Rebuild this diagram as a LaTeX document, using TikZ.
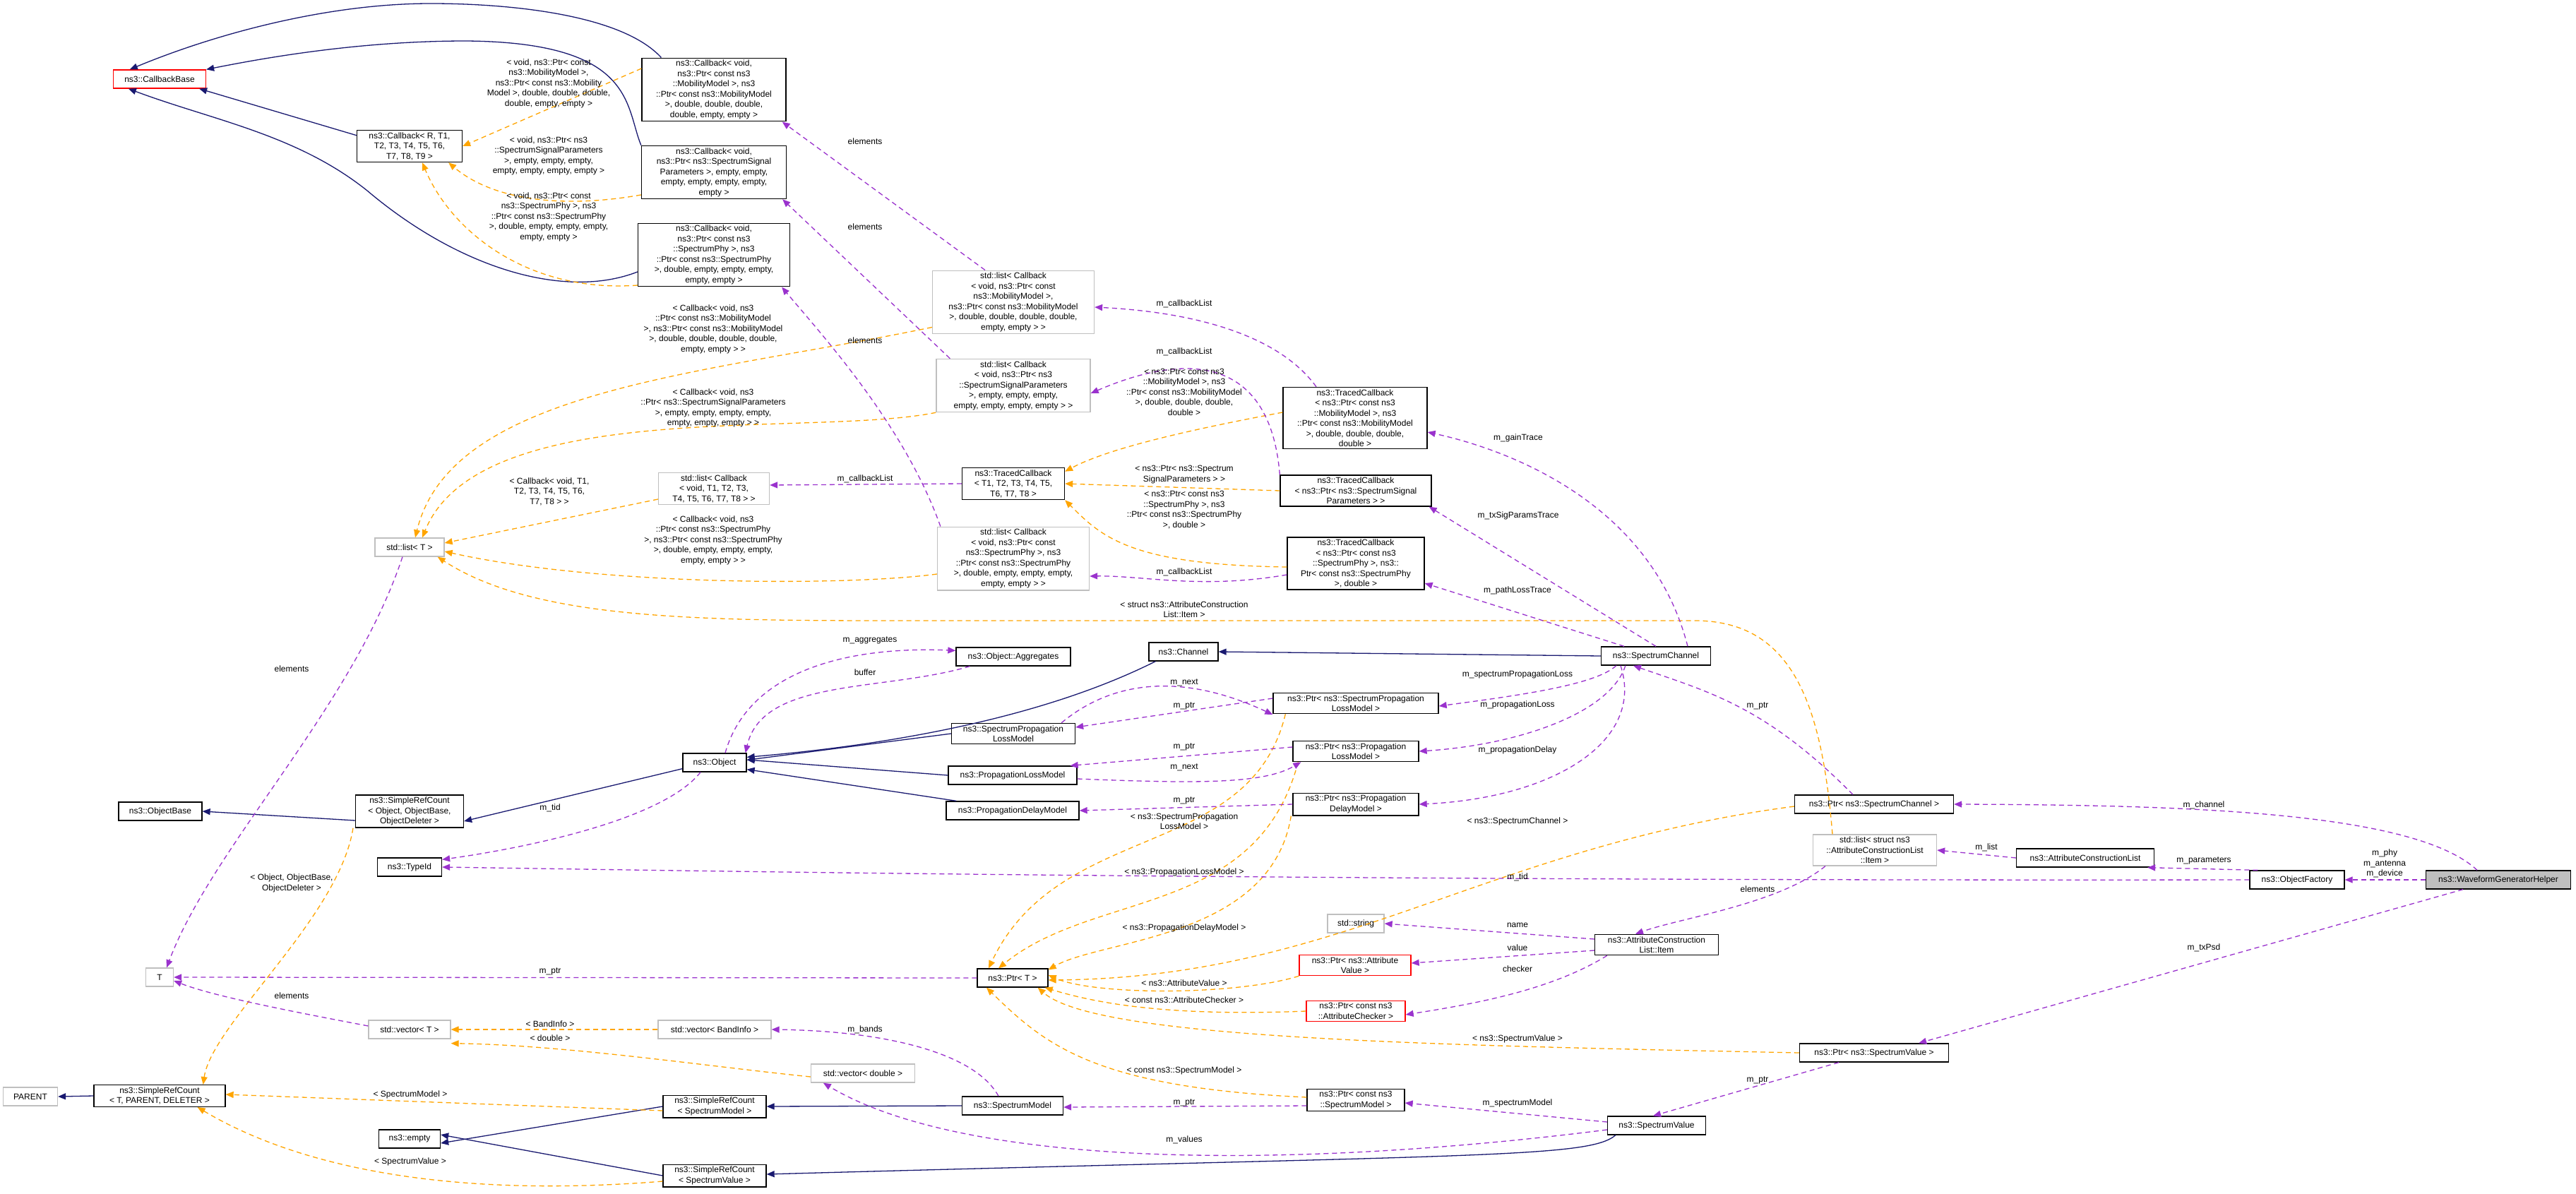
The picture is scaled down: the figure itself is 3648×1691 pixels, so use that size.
\documentclass[tikz,border=0pt]{standalone}
\usepackage{fontspec}
\setmainfont{Liberation Sans}
\usetikzlibrary{arrows.meta}
\definecolor{navy}{HTML}{191970}
\definecolor{purp}{HTML}{9A32CD}
\definecolor{orng}{HTML}{FFA500}
\newcommand\fsz{\fontsize{12}{14.5}\selectfont}
\tikzset{
 box/.style={draw=black, line width=1.3pt, fill=white, inner sep=3pt, align=center, font=\fsz},
 gbox/.style={box, draw=black!25},
 rbox/.style={box, draw=red},
 hbox/.style={box, fill=black!25},
 tip/.style={-{Triangle[length=11pt,width=9pt]}},
 inh/.style={draw=navy, line width=1.3pt, tip},
 use/.style={draw=purp, line width=1.3pt, dash pattern=on 7pt off 5pt, tip},
 tpl/.style={draw=orng, line width=1.3pt, dash pattern=on 7pt off 5pt, tip},
 lbl/.style={font=\fsz, align=center, inner sep=0pt}
}
\begin{document}
\begin{tikzpicture}[x=1pt,y=-1pt]
\useasboundingbox[fill=white] (0,0) rectangle (3648,1691);
% nodes
\node[rbox,minimum width=131pt,minimum height=26pt] (cbb) at (226,112) {ns3::CallbackBase};
\node[box,minimum width=149pt] (cbR) at (580,207) {ns3::Callback< R, T1,\\ T2, T3, T4, T5, T6,\\ T7, T8, T9 >};
\node[box,minimum width=204pt] (cbmob) at (1011,127) {ns3::Callback< void,\\ ns3::Ptr< const ns3\\ ::MobilityModel >, ns3\\ ::Ptr< const ns3::MobilityModel\\ >, double, double, double,\\ double, empty, empty >};
\node[box,minimum width=205pt] (cbsig) at (1011,244) {ns3::Callback< void,\\ ns3::Ptr< ns3::SpectrumSignal\\ Parameters >, empty, empty,\\ empty, empty, empty, empty,\\ empty >};
\node[box,minimum width=215pt] (cbphy) at (1011,361) {ns3::Callback< void,\\ ns3::Ptr< const ns3\\ ::SpectrumPhy >, ns3\\ ::Ptr< const ns3::SpectrumPhy\\ >, double, empty, empty, empty,\\ empty, empty >};
\node[gbox,minimum width=229pt] (lcmob) at (1435,428) {std::list< Callback\\ < void, ns3::Ptr< const\\ ns3::MobilityModel >,\\ ns3::Ptr< const ns3::MobilityModel\\ >, double, double, double, double,\\ empty, empty > >};
\node[gbox,minimum width=218pt] (lcsig) at (1435,546) {std::list< Callback\\ < void, ns3::Ptr< ns3\\ ::SpectrumSignalParameters\\ >, empty, empty, empty,\\ empty, empty, empty, empty > >};
\node[gbox,minimum width=157pt] (lct) at (1011,692) {std::list< Callback\\ < void, T1, T2, T3,\\ T4, T5, T6, T7, T8 > >};
\node[gbox,minimum width=215pt] (lcphy) at (1435,791) {std::list< Callback\\ < void, ns3::Ptr< const\\ ns3::SpectrumPhy >, ns3\\ ::Ptr< const ns3::SpectrumPhy\\ >, double, empty, empty, empty,\\ empty, empty > >};
\node[box,minimum width=204pt] (tcmob) at (1919,592) {ns3::TracedCallback\\ < ns3::Ptr< const ns3\\ ::MobilityModel >, ns3\\ ::Ptr< const ns3::MobilityModel\\ >, double, double, double,\\ double >};
\node[box,minimum width=145pt] (tct) at (1435,685) {ns3::TracedCallback\\ < T1, T2, T3, T4, T5,\\ T6, T7, T8 >};
\node[box,minimum width=214pt] (tcsig) at (1920,695) {ns3::TracedCallback\\ < ns3::Ptr< ns3::SpectrumSignal\\ Parameters > >};
\node[box,minimum width=194pt] (tcphy) at (1920,798) {ns3::TracedCallback\\ < ns3::Ptr< const ns3\\ ::SpectrumPhy >, ns3::\\ Ptr< const ns3::SpectrumPhy\\ >, double >};
\node[gbox,minimum width=98pt,minimum height=26pt] (listT) at (580,775) {std::list< T >};
\node[box,minimum width=162pt,minimum height=26pt] (agg) at (1435,930) {ns3::Object::Aggregates};
\node[box,minimum width=98pt,minimum height=26pt] (chan) at (1676,923) {ns3::Channel};
\node[box,minimum width=155pt,minimum height=26pt] (sch) at (2345,929) {ns3::SpectrumChannel};
\node[box,minimum width=234pt] (psplm) at (1920,996) {ns3::Ptr< ns3::SpectrumPropagation\\ LossModel >};
\node[box,minimum width=175pt] (splm) at (1435,1039) {ns3::SpectrumPropagation\\ LossModel};
\node[box,minimum width=178pt] (pplm) at (1920,1064) {ns3::Ptr< ns3::Propagation\\ LossModel >};
\node[box,minimum width=182pt,minimum height=26pt] (plm) at (1434,1098) {ns3::PropagationLossModel};
\node[box,minimum width=178pt] (ppdm) at (1920,1139) {ns3::Ptr< ns3::Propagation\\ DelayModel >};
\node[box,minimum width=188pt,minimum height=26pt] (pdm) at (1434,1148) {ns3::PropagationDelayModel};
\node[box,minimum width=90pt,minimum height=26pt] (obj) at (1012,1080) {ns3::Object};
\node[box,minimum width=118pt,minimum height=26pt] (objb) at (227,1149) {ns3::ObjectBase};
\node[box,minimum width=153pt] (srco) at (580,1149) {ns3::SimpleRefCount\\ < Object, ObjectBase,\\ ObjectDeleter >};
\node[box,minimum width=91pt,minimum height=26pt] (tid) at (580,1228) {ns3::TypeId};
\node[gbox,minimum width=39pt,minimum height=26pt] (T) at (226,1384) {T};
\node[gbox,minimum width=116pt,minimum height=26pt] (vecT) at (580,1458) {std::vector< T >};
\node[gbox,minimum width=160pt,minimum height=26pt] (vecB) at (1012,1458) {std::vector< BandInfo >};
\node[gbox,minimum width=147pt,minimum height=26pt] (vecD) at (1222,1520) {std::vector< double >};
\node[gbox,minimum width=77pt,minimum height=26pt] (par) at (43,1553) {PARENT};
\node[box,minimum width=186pt] (srct) at (226,1552) {ns3::SimpleRefCount\\ < T, PARENT, DELETER >};
\node[box,minimum width=146pt] (srcm) at (1012,1567) {ns3::SimpleRefCount\\ < SpectrumModel >};
\node[box,minimum width=87pt,minimum height=26pt] (emp) at (580,1613) {ns3::empty};
\node[box,minimum width=146pt] (srcv) at (1012,1665) {ns3::SimpleRefCount\\ < SpectrumValue >};
\node[box,minimum width=100pt,minimum height=26pt] (ptrT) at (1434,1385) {ns3::Ptr< T >};
\node[gbox,minimum width=80pt,minimum height=26pt] (str) at (1920,1308) {std::string};
\node[rbox,minimum width=158pt] (pav) at (1919,1367) {ns3::Ptr< ns3::Attribute\\ Value >};
\node[rbox,minimum width=140pt] (pac) at (1920,1432) {ns3::Ptr< const ns3\\ ::AttributeChecker >};
\node[box,minimum width=143pt,minimum height=26pt] (sm) at (1434,1566) {ns3::SpectrumModel};
\node[box,minimum width=138pt] (pcsm) at (1920,1558) {ns3::Ptr< const ns3\\ ::SpectrumModel >};
\node[box,minimum width=175pt] (item) at (2346,1338) {ns3::AttributeConstruction\\ List::Item};
\node[box,minimum width=139pt,minimum height=26pt] (sv) at (2346,1594) {ns3::SpectrumValue};
\node[box,minimum width=211pt,minimum height=26pt] (psv) at (2654,1491) {ns3::Ptr< ns3::SpectrumValue >};
\node[box,minimum width=225pt,minimum height=26pt] (psc) at (2654,1139) {ns3::Ptr< ns3::SpectrumChannel >};
\node[gbox,minimum width=175pt] (litem) at (2655,1204) {std::list< struct ns3\\ ::AttributeConstructionList\\ ::Item >};
\node[box,minimum width=195pt,minimum height=26pt] (acl) at (2953,1215) {ns3::AttributeConstructionList};
\node[box,minimum width=134pt,minimum height=26pt] (of) at (3253,1246) {ns3::ObjectFactory};
\node[hbox,minimum width=205pt,minimum height=26pt] (wgh) at (3538,1246) {ns3::WaveformGeneratorHelper};
% blue inheritance
\draw[inh] ([xshift=28pt]cbmob.north west) .. controls (880,20) and (720,5) .. (610,5) .. controls (460,5) and (300,50) .. ([xshift=24pt]cbb.north west);
\draw[inh] (cbsig.north west) .. controls (885,150) and (900,60) .. (660,58) .. controls (500,58) and (360,85) .. (cbb.north east);
\draw[inh] ([yshift=-8pt]cbR.north west) -- ([xshift=-10pt]cbb.south east);
\draw[inh] ([yshift=-24pt]cbphy.west) .. controls (800,425) and (650,380) .. (520,270) .. controls (420,190) and (300,170) .. ([xshift=22pt]cbb.south west);
\draw[inh] (sch.west) -- (chan.east);
\draw[inh] ([xshift=10pt]chan.south west) .. controls (1450,1030) and (1200,1060) .. ([yshift=-6pt]obj.north east);
\draw[inh] (splm.west) -- ([yshift=-10pt]obj.north east);
\draw[inh] (plm.west) -- ([yshift=4pt]obj.east);
\draw[inh] ([xshift=15pt]pdm.north west) -- ([yshift=4pt]obj.south east);
\draw[inh] ([yshift=5pt]obj.south west) -- ([yshift=-14pt]srco.east);
\draw[inh] ([yshift=-13pt]srco.west) -- (objb.east);
\draw[inh] (srct.west) -- (par.east);
\draw[inh] (srcm.west) -- ([yshift=-6pt]emp.east);
\draw[inh] (srcv.west) -- ([yshift=6pt]emp.east);
\draw[inh] (sm.west) -- (srcm.east);
\draw[inh] ([xshift=12pt]sv.south west) .. controls (2250,1640) and (2100,1635) .. ([yshift=2pt]srcv.east);
% orange template
\draw[tpl] ([yshift=30pt]cbmob.west) -- (cbR.east);
\draw[tpl] ([yshift=-32pt]cbsig.west) .. controls (800,295) and (700,285) .. ([xshift=-20pt]cbR.south east);
\draw[tpl] ([yshift=-43pt]cbphy.west) .. controls (750,415) and (640,330) .. ([xshift=18pt]cbR.south);
\draw[tpl] ([yshift=10pt]lcmob.south west) .. controls (1000,530) and (640,550) .. ([xshift=8pt]listT.north);
\draw[tpl] (lcsig.south west) .. controls (1150,620) and (680,560) .. ([xshift=18pt]listT.north);
\draw[tpl] ([yshift=-15pt]lct.west) -- ([yshift=6pt]listT.east);
\draw[tpl] ([yshift=-22pt]lcphy.west) .. controls (1200,830) and (850,830) .. ([yshift=-6pt]listT.east);
\draw[tpl] ([xshift=-60pt]litem.north) .. controls (2580,1000) and (2540,879) .. (2400,879) -- (1300,879) .. controls (1000,879) and (760,880) .. ([xshift=-10pt]listT.south east);
\draw[tpl] ([yshift=8pt]tcmob.west) .. controls (1650,615) and (1560,640) .. ([yshift=-6pt]tct.north east);
\draw[tpl] (tcsig.west) -- (tct.east);
\draw[tpl] ([yshift=-5pt]tcphy.west) .. controls (1600,800) and (1560,760) .. (tct.south east);
\draw[tpl] ([xshift=-80pt]srco.south) .. controls (480,1300) and (300,1450) .. ([xshift=-32pt]srct.north east);
\draw[tpl] ([yshift=-6pt]srcm.west) -- ([yshift=2pt]srct.east);
\draw[tpl] ([yshift=-8pt]srcv.west) .. controls (600,1700) and (400,1640) .. ([xshift=-40pt]srct.south east);
\draw[tpl] (vecB.west) -- (vecT.east);
\draw[tpl] ([yshift=-5pt]vecD.west) .. controls (1000,1510) and (800,1480) .. ([yshift=-6pt]vecT.south east);
\draw[tpl] ([xshift=18pt]psplm.south west) .. controls (1770,1220) and (1500,1160) .. ([xshift=-34pt]ptrT.north);
\draw[tpl] ([xshift=8pt]pplm.south west) .. controls (1780,1300) and (1550,1260) .. ([xshift=-20pt]ptrT.north);
\draw[tpl] ([xshift=-2pt]ppdm.south west) .. controls (1800,1330) and (1560,1330) .. ([yshift=-2pt]ptrT.north east);
\draw[tpl] ([yshift=-3pt]psc.west) .. controls (2100,1200) and (1900,1385) .. ([yshift=-3pt]ptrT.east);
\draw[tpl] (pav.south west) .. controls (1750,1410) and (1550,1410) .. ([yshift=4pt]ptrT.east);
\draw[tpl] (pac.west) .. controls (1650,1440) and (1550,1420) .. ([xshift=-5pt]ptrT.south east);
\draw[tpl] (psv.west) .. controls (2000,1480) and (1550,1470) .. ([xshift=-15pt]ptrT.south east);
\draw[tpl] ([yshift=4pt]pcsm.west) .. controls (1550,1540) and (1480,1480) .. ([xshift=-37pt]ptrT.south);
% purple usage
\draw[use] ([xshift=-40pt]lcmob.north) -- ([xshift=-6pt]cbmob.south east);
\draw[use] ([xshift=20pt]lcsig.north west) -- ([xshift=-6pt]cbsig.south east);
\draw[use] ([xshift=5pt]lcphy.north west) .. controls (1280,600) and (1160,470) .. ([xshift=-12pt]cbphy.south east);
\draw[use] ([xshift=-10pt]listT.south) .. controls (500,1000) and (300,1200) .. ([xshift=10pt]T.north);
\draw[use] ([yshift=5pt]vecT.west) .. controls (400,1430) and (300,1410) .. ([yshift=-5pt]T.east);
\draw[use] ([xshift=-55pt]tcmob.north) .. controls (1800,460) and (1650,440) .. ([yshift=-7pt]lcmob.east);
\draw[use] (tcsig.north west) .. controls (1800,520) and (1700,490) .. ([yshift=-11pt]lcsig.east);
\draw[use] ([yshift=0pt]tct.west) -- ([yshift=5pt]lct.east);
\draw[use] ([yshift=-16pt]tcphy.west) .. controls (1700,835) and (1620,815) .. ([yshift=-25pt]lcphy.east);
\draw[use] ([xshift=45pt]sch.north) .. controls (2340,720) and (2150,640) .. ([yshift=-20pt]tcmob.east);
\draw[use] ([xshift=0pt]sch.north) -- ([xshift=-4pt]tcsig.south east);
\draw[use] ([xshift=-45pt]sch.north) -- ([yshift=-28pt]tcphy.east);
\draw[use] ([xshift=22pt]sch.south west) .. controls (2260,970) and (2150,985) .. ([yshift=-4pt]psplm.east);
\draw[use] ([xshift=35pt]sch.south west) .. controls (2280,1010) and (2150,1055) .. (pplm.east);
\draw[use] ([xshift=-50pt]sch.south) .. controls (2330,1050) and (2200,1130) .. (ppdm.east);
\draw[use] ([yshift=7pt]psplm.west) -- ([yshift=9pt]splm.east);
\draw[use] ([xshift=-20pt]splm.north east) .. controls (1580,960) and (1680,955) .. ([yshift=-16pt]psplm.west);
\draw[use] ([yshift=6pt]pplm.west) -- ([xshift=-10pt]plm.north east);
\draw[use] ([yshift=-5pt]plm.east) .. controls (1700,1110) and (1790,1110) .. ([xshift=12pt]pplm.south west);
\draw[use] (ppdm.west) -- (pdm.east);
\draw[use] ([xshift=15pt]obj.north) .. controls (1060,950) and (1200,915) .. ([yshift=-5pt]agg.north west);
\draw[use] ([xshift=20pt]agg.south west) .. controls (1250,980) and (1080,960) .. ([xshift=-2pt]obj.north east);
\draw[use] ([xshift=-20pt]obj.south) .. controls (940,1160) and (750,1200) .. ([yshift=-3pt]tid.north east);
\draw[use] (of.west) .. controls (1800,1248) and (900,1232) .. (tid.east);
\draw[use] (ptrT.west) -- (T.east);
\draw[use] ([yshift=8pt]item.west) -- (str.east);
\draw[use] ([yshift=-8pt]item.west) -- ([yshift=3pt]pav.east);
\draw[use] ([xshift=18pt]item.south west) .. controls (2200,1400) and (2100,1420) .. ([yshift=-5pt]pac.east);
\draw[use] ([xshift=-70pt]litem.south) .. controls (2520,1280) and (2380,1300) .. ([xshift=-30pt]item.north);
\draw[use] (acl.west) -- (litem.east);
\draw[use] ([xshift=12pt]of.north west) -- ([xshift=-10pt]acl.south east);
\draw[use] (wgh.west) -- (of.east);
\draw[use] ([xshift=-30pt]wgh.north) .. controls (3420,1150) and (3100,1140) .. (psc.east);
\draw[use] ([xshift=-50pt]wgh.south) -- ([xshift=-50pt]psc.east |- psv.north);
\draw[use] ([xshift=-30pt]psc.north) .. controls (2500,1000) and (2420,980) .. ([xshift=-32pt]sch.south);
\draw[use] ([xshift=-50pt]psv.south) -- ([xshift=-5pt]sv.north);
\draw[use] ([yshift=5pt]sv.west) -- ([yshift=-4pt]pcsm.east);
\draw[use] ([yshift=-6pt]sv.west) .. controls (1800,1660) and (1360,1650) .. ([xshift=18pt]vecD.south west);
\draw[use] ([yshift=-8pt]pcsm.west) -- ([yshift=-2pt]sm.east);
\draw[use] ([xshift=-20pt]sm.north) .. controls (1380,1490) and (1250,1460) .. (vecB.east);
% labels
\node[lbl] (l1) at (777,118) {< void, ns3::Ptr< const\\ ns3::MobilityModel >,\\ ns3::Ptr< const ns3::Mobility\\ Model >, double, double, double,\\ double, empty, empty >};
\node[lbl] (l2) at (777,221) {< void, ns3::Ptr< ns3\\ ::SpectrumSignalParameters\\ >, empty, empty, empty,\\ empty, empty, empty, empty >};
\node[lbl] (l3) at (777,307) {< void, ns3::Ptr< const\\ ns3::SpectrumPhy >, ns3\\ ::Ptr< const ns3::SpectrumPhy\\ >, double, empty, empty, empty,\\ empty, empty >};
\node[lbl] (l4) at (1010,466) {< Callback< void, ns3\\ ::Ptr< const ns3::MobilityModel\\ >, ns3::Ptr< const ns3::MobilityModel\\ >, double, double, double, double,\\ empty, empty > >};
\node[lbl] (l5) at (1010,578) {< Callback< void, ns3\\ ::Ptr< ns3::SpectrumSignalParameters\\ >, empty, empty, empty, empty,\\ empty, empty, empty > >};
\node[lbl] (l6) at (778,696) {< Callback< void, T1,\\ T2, T3, T4, T5, T6,\\ T7, T8 > >};
\node[lbl] (l7) at (1010,765) {< Callback< void, ns3\\ ::Ptr< const ns3::SpectrumPhy\\ >, ns3::Ptr< const ns3::SpectrumPhy\\ >, double, empty, empty, empty,\\ empty, empty > >};
\node[lbl] at (1225,200) {elements};
\node[lbl] at (1225,321) {elements};
\node[lbl] at (1225,482) {elements};
\node[lbl] at (1225,678) {m\_callbackList};
\node[lbl] at (1677,430) {m\_callbackList};
\node[lbl] at (1677,498) {m\_callbackList};
\node[lbl] at (1677,810) {m\_callbackList};
\node[lbl] at (1677,555) {< ns3::Ptr< const ns3\\ ::MobilityModel >, ns3\\ ::Ptr< const ns3::MobilityModel\\ >, double, double, double,\\ double >};
\node[lbl] at (1677,672) {< ns3::Ptr< ns3::Spectrum\\ SignalParameters > >};
\node[lbl] at (1677,722) {< ns3::Ptr< const ns3\\ ::SpectrumPhy >, ns3\\ ::Ptr< const ns3::SpectrumPhy\\ >, double >};
\node[lbl] at (2150,620) {m\_gainTrace};
\node[lbl] at (2150,730) {m\_txSigParamsTrace};
\node[lbl] at (2149,836) {m\_pathLossTrace};
\node[lbl] at (1677,863) {< struct ns3::AttributeConstruction\\ List::Item >};
\node[lbl] at (1232,907) {m\_aggregates};
\node[lbl] at (1225,952) {buffer};
\node[lbl] at (1677,967) {m\_next};
\node[lbl] at (1677,1000) {m\_ptr};
\node[lbl] at (2149,955) {m\_spectrumPropagationLoss};
\node[lbl] at (2149,998) {m\_propagationLoss};
\node[lbl] at (1677,1058) {m\_ptr};
\node[lbl] at (1677,1087) {m\_next};
\node[lbl] at (2149,1062) {m\_propagationDelay};
\node[lbl] at (1677,1134) {m\_ptr};
\node[lbl] at (1677,1163) {< ns3::SpectrumPropagation\\ LossModel >};
\node[lbl] at (2149,1163) {< ns3::SpectrumChannel >};
\node[lbl] at (1677,1235) {< ns3::PropagationLossModel >};
\node[lbl] at (2149,1242) {m\_tid};
\node[lbl] at (1677,1314) {< ns3::PropagationDelayModel >};
\node[lbl] at (1677,1392) {< ns3::AttributeValue >};
\node[lbl] at (1677,1416) {< const ns3::AttributeChecker >};
\node[lbl] at (2149,1471) {< ns3::SpectrumValue >};
\node[lbl] at (2149,1310) {name};
\node[lbl] at (2149,1342) {value};
\node[lbl] at (2149,1372) {checker};
\node[lbl] at (1225,1458) {m\_bands};
\node[lbl] at (1677,1516) {< const ns3::SpectrumModel >};
\node[lbl] at (1677,1562) {m\_ptr};
\node[lbl] at (2149,1562) {m\_spectrumModel};
\node[lbl] at (1677,1614) {m\_values};
\node[lbl] at (413,947) {elements};
\node[lbl] at (779,1144) {m\_tid};
\node[lbl] at (413,1251) {< Object, ObjectBase,\\ ObjectDeleter >};
\node[lbl] at (779,1376) {m\_ptr};
\node[lbl] at (413,1410) {elements};
\node[lbl] at (779,1450) {< BandInfo >};
\node[lbl] at (779,1470) {< double >};
\node[lbl] at (581,1550) {< SpectrumModel >};
\node[lbl] at (581,1645) {< SpectrumValue >};
\node[lbl] at (2489,1000) {m\_ptr};
\node[lbl] at (3121,1140) {m\_channel};
\node[lbl] at (2813,1200) {m\_list};
\node[lbl] at (3121,1219) {m\_parameters};
\node[lbl] at (3377,1223) {m\_phy\\ m\_antenna\\ m\_device};
\node[lbl] at (2489,1259) {elements};
\node[lbl] at (3121,1342) {m\_txPsd};
\node[lbl] at (2489,1530) {m\_ptr};
\end{tikzpicture}
\end{document}
